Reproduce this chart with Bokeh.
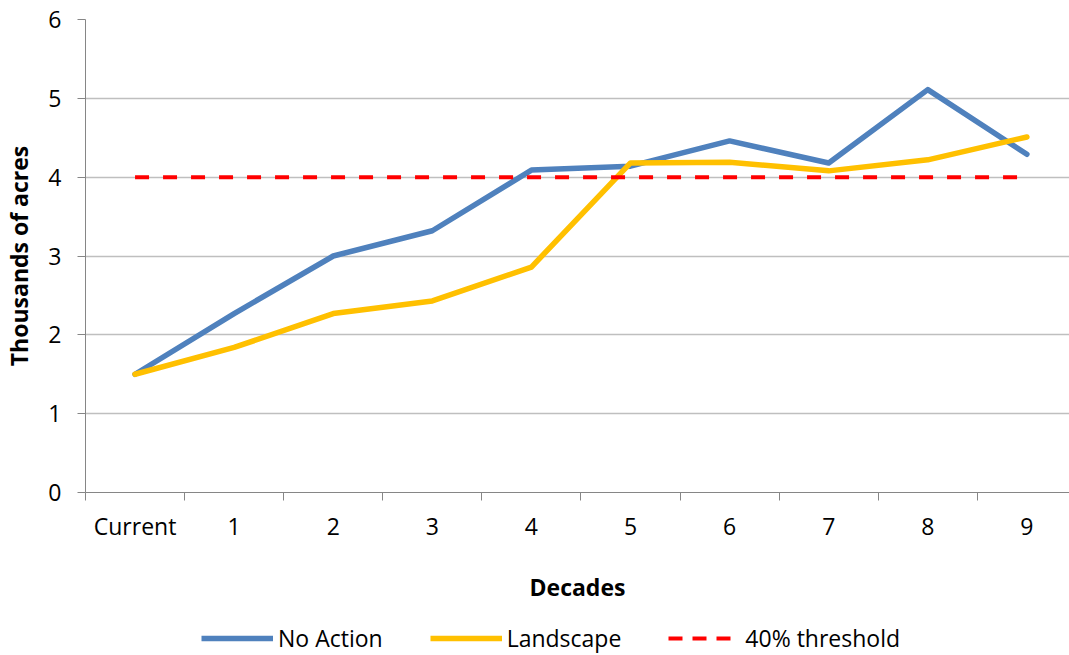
from bokeh.plotting import figure
from bokeh.layouts import column
from bokeh.models import FixedTicker, Legend, LegendItem, Range1d
from bokeh.embed import file_html
from bokeh.resources import INLINE

categories = ["Current", "1", "2", "3", "4", "5", "6", "7", "8", "9"]
no_action = [1.5, 2.27, 3.0, 3.32, 4.09, 4.14, 4.46, 4.18, 5.11, 4.29]
landscape = [1.5, 1.84, 2.27, 2.43, 2.86, 4.18, 4.19, 4.08, 4.22, 4.51]
threshold = [4, 4, 4, 4, 4, 4, 4, 4, 4, 4]
y_ticks = [0, 1, 2, 3, 4, 5, 6]
series_names = ["No Action", "Landscape", "40% threshold"]

xs = list(range(len(categories)))

FONT = "Open Sans"
FS = "23px"
BLUE, GOLD, RED = "#4F81BD", "#FFC000", "#FF0000"

p = figure(width=1069, height=605, output_backend="svg", toolbar_location=None,
           x_range=Range1d(-0.5, 9.43), y_range=Range1d(0, 6),
           min_border_left=84, min_border_right=0, min_border_top=19, min_border_bottom=113)
p.outline_line_color = None
p.xgrid.grid_line_color = None
p.ygrid.grid_line_color = "#BFBFBF"
p.ygrid.grid_line_width = 1.3
p.ygrid.ticker = FixedTicker(ticks=y_ticks)

p.line(xs, no_action, line_color=BLUE, line_width=5.5, line_join="round", line_cap="round")
p.line(xs, landscape, line_color=GOLD, line_width=5.5, line_join="round", line_cap="round")
p.line(xs, threshold, line_color=RED, line_width=4, line_dash="14 14")

xa = p.xaxis[0]
xa.ticker = FixedTicker(ticks=xs, minor_ticks=[i - 0.5 for i in range(len(categories) + 1)])
xa.major_label_overrides = {i: c for i, c in enumerate(categories)}
xa.major_tick_line_color = None
xa.major_tick_out = 6
xa.minor_tick_out = 8
xa.minor_tick_in = 0
xa.minor_tick_line_color = "#868686"
xa.axis_line_color = "#868686"
xa.major_label_text_font = FONT
xa.major_label_text_font_size = FS
xa.major_label_text_color = "#000000"
xa.major_label_standoff = 9
xa.axis_label = "Decades"
xa.axis_label_text_font = FONT
xa.axis_label_text_font_size = FS
xa.axis_label_text_font_style = "bold"
xa.axis_label_text_color = "#000000"
xa.axis_label_standoff = 26

ya = p.yaxis[0]
ya.ticker = FixedTicker(ticks=y_ticks)
ya.minor_tick_line_color = None
ya.major_tick_out = 8
ya.major_tick_in = 0
ya.major_tick_line_color = "#868686"
ya.axis_line_color = "#868686"
ya.major_label_text_font = FONT
ya.major_label_text_font_size = FS
ya.major_label_text_color = "#000000"
ya.major_label_standoff = 16
ya.axis_label = "Thousands of acres"
ya.axis_label_text_font = FONT
ya.axis_label_text_font_size = FS
ya.axis_label_text_font_style = "bold"
ya.axis_label_text_color = "#000000"
ya.axis_label_standoff = 10

# legend strip below the chart (its glyph renderers sit outside the visible range)
lf = figure(width=1069, height=50, output_backend="svg", toolbar_location=None,
            x_range=Range1d(-0.5, 9.43), y_range=Range1d(-20, -19),
            min_border_left=84, min_border_right=0, min_border_top=0, min_border_bottom=0)
lf.axis.visible = False
lf.grid.visible = False
lf.outline_line_color = None
l1 = lf.line(xs, no_action, line_color=BLUE, line_width=5.5)
l2 = lf.line(xs, landscape, line_color=GOLD, line_width=5.5)
l3 = lf.line(xs, threshold, line_color=RED, line_width=4, line_dash="14 10")
legend = Legend(items=[LegendItem(label=series_names[0], renderers=[l1]),
                       LegendItem(label=series_names[1], renderers=[l2]),
                       LegendItem(label=series_names[2], renderers=[l3])],
                orientation="horizontal", location=(116, 1),
                glyph_width=72, glyph_height=20, label_standoff=5, spacing=47,
                label_text_font=FONT, label_text_font_size=FS, label_text_color="#000000",
                border_line_color=None, background_fill_alpha=0,
                padding=0, margin=0)
lf.add_layout(legend, "center")

layout = column(p, lf, spacing=0)
open("out.html", "w").write(file_html(layout, INLINE))
